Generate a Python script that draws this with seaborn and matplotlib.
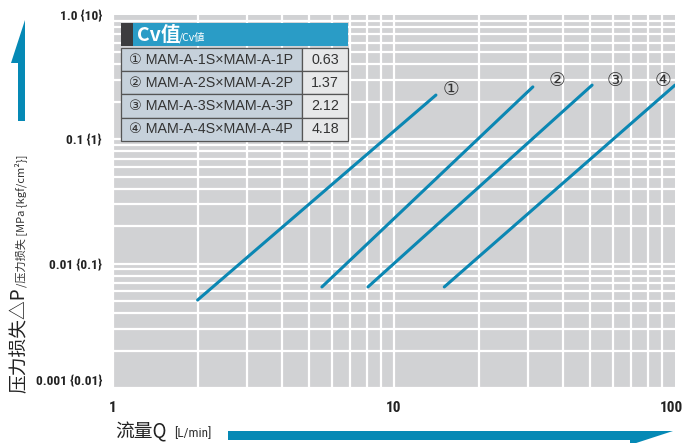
import matplotlib
matplotlib.use("Agg")
import matplotlib.pyplot as plt
import matplotlib.patches as mpatches
import matplotlib.transforms as mtransforms
from matplotlib import font_manager
import numpy as np
import pandas as pd
import seaborn as sns

# ---- data ----
models = ["① MAM-A-1S×MAM-A-1P", "② MAM-A-2S×MAM-A-2P",
          "③ MAM-A-3S×MAM-A-3P", "④ MAM-A-4S×MAM-A-4P"]
cv_values = ["0.63", "1.37", "2.12", "4.18"]
curve_marks = ["①", "②", "③", "④"]
flow_start = [2.0, 5.54, 8.08, 15.1]      # L/min
flow_end = [14.1, 31.2, 50.7, 100.0]      # L/min
drop_start = [0.0051, 0.0065, 0.0065, 0.0065]  # MPa
drop_end = [0.227, 0.264, 0.273, 0.273]        # MPa
mark_pos_q = [16.0, 38.0, 61.0, 91.0]
mark_pos_p = [0.25, 0.30, 0.30, 0.30]
y_ticks = [0.001, 0.01, 0.1, 1.0]
y_tick_labels = ["0.001 {0.01}", "0.01 {0.1}", "0.1 {1}", "1.0 {10}"]
x_ticks = [1, 10, 100]
x_tick_labels = ["1", "10", "100"]

rows = []
for i, m in enumerate(curve_marks):
    rows.append({"series": m, "Q": flow_start[i], "P": drop_start[i]})
    rows.append({"series": m, "Q": flow_end[i], "P": drop_end[i]})
df = pd.DataFrame(rows)

sns.set_theme(style="white")
plt.rcParams["font.family"] = ["Noto Sans CJK SC", "DejaVu Sans"]


def find_font(keys, size, bold=False):
    """Pick the first installed font file whose file name holds one of keys."""
    for key in keys:
        for f in font_manager.fontManager.ttflist:
            if key.lower() in f.fname.lower().replace(" ", ""):
                return font_manager.FontProperties(fname=f.fname, size=size)
    return font_manager.FontProperties(family="DejaVu Sans", size=size,
                                       weight="bold" if bold else "normal")


BOLD_KEYS = ["RobotoCondensed-Bold.", "LiberationSansNarrow-Bold.",
             "DejaVuSansCondensed-Bold."]
REG_KEYS = ["RobotoCondensed-Regular.", "LiberationSansNarrow-Regular.",
            "DejaVuSansCondensed."]
ytick_font = find_font(BOLD_KEYS, 9.6, bold=True)
xtick_font = find_font(BOLD_KEYS, 11, bold=True)
unit_font = find_font(REG_KEYS, 9.5)

W, H = 687, 443
fig = plt.figure(figsize=(W / 100, H / 100), dpi=100)
fig.patch.set_facecolor("white")


def fx(x):
    return x / W


def fy(y):
    return 1 - y / H


ax = fig.add_axes([fx(113), fy(388), fx(675) - fx(113), fy(15) - fy(388)])
ax.set_facecolor("#d1d2d4")

BLUE = "#0b87b3"
sns.lineplot(data=df, x="Q", y="P", hue="series", palette=[BLUE] * 4,
             linewidth=2.2, legend=False, ax=ax, zorder=3)
ax.set_xscale("log")
ax.set_yscale("log")
ax.set_xlim(1, 100)
ax.set_ylim(0.001, 1.0)

# white grid on every decade subdivision
for dec in [1, 10]:
    for k in range(1, 10):
        ax.axvline(dec * k, color="white", lw=1.6, zorder=1)
for dec in [0.001, 0.01, 0.1]:
    for k in range(1, 10):
        ax.axhline(dec * k, color="white", lw=1.6, zorder=1)

for s in ax.spines.values():
    s.set_visible(False)
ax.minorticks_off()
ax.set_xticks(x_ticks)
ax.set_xticklabels(x_tick_labels, fontproperties=xtick_font, color="#222222")
ax.set_yticks(y_ticks)
ax.set_yticklabels(y_tick_labels, fontproperties=ytick_font, color="#222222")
ax.tick_params(axis="both", length=0)
ax.tick_params(axis="y", pad=8)
ax.tick_params(axis="x", pad=9)
ax.get_yticklabels()[0].set_va("bottom")
last = ax.get_xticklabels()[-1]
last.set_transform(last.get_transform() +
                   mtransforms.ScaledTranslation(-4 / 100, 0, fig.dpi_scale_trans))
ax.set_xlabel("")
ax.set_ylabel("")

for m, q, p in zip(curve_marks, mark_pos_q, mark_pos_p):
    ax.text(q, p, m, fontsize=13.5, ha="center", va="center",
            color="#333333", fontfamily=["DejaVu Sans"], zorder=4)

# ---- Cv table ----
def rect(x0, y0, x1, y1, fc, ec="none", lw=0, z=5):
    fig.patches.append(mpatches.Rectangle((fx(x0), fy(y1)), fx(x1) - fx(x0),
                                          fy(y0) - fy(y1), transform=fig.transFigure,
                                          facecolor=fc, edgecolor=ec, lw=lw, zorder=z))

rect(121, 23, 348, 46, "#2a9cc6")
rect(121, 23, 133, 46, "#3c3c3e")
fig.text(fx(137), fy(35), "Cv值", color="white", fontsize=14, fontweight="bold",
         va="center", ha="left", zorder=6)
fig.text(fx(179), fy(37), "/Cv値", color="white", fontsize=7.5,
         va="center", ha="left", zorder=6,
         family=["Noto Sans CJK JP", "DejaVu Sans"])

row_top = 48
row_h = 23.2
for i, (name, cv) in enumerate(zip(models, cv_values)):
    y0 = row_top + i * row_h
    y1 = y0 + row_h
    rect(121, y0, 302, y1, "#c6d1db", ec="#555555", lw=0.9)
    rect(302, y0, 348, y1, "#e7e8e9", ec="#555555", lw=0.9)
    fig.text(fx(129), fy((y0 + y1) / 2), name, fontsize=10.3, color="#333333",
             va="center", ha="left", zorder=6,
             family=["Liberation Sans", "DejaVu Sans"])
    fig.text(fx(325), fy((y0 + y1) / 2), cv, fontsize=10.3, color="#333333",
             va="center", ha="center", zorder=6,
             family=["Liberation Sans", "DejaVu Sans"])

# ---- axis titles with arrows ----
fig.patches.append(mpatches.Polygon(
    [(fx(18), fy(121)), (fx(18), fy(63)), (fx(11), fy(63)), (fx(25), fy(20)),
     (fx(25), fy(121))], closed=True, transform=fig.transFigure,
    facecolor="#0589b5", edgecolor="none"))
fig.patches.append(mpatches.Polygon(
    [(fx(228), fy(431)), (fx(673), fy(431)), (fx(630), fy(445)),
     (fx(630), fy(440)), (fx(228), fy(440))], closed=True,
    transform=fig.transFigure, facecolor="#0589b5", edgecolor="none"))

fig.text(fx(19), fy(393), "压力损失△P", rotation=90, fontsize=13.5,
         fontweight="medium", ha="center", va="bottom", color="#222222",
         family=["Noto Sans CJK SC", "DejaVu Sans"])
fig.text(fx(21), fy(287), "/压力损失 [MPa {kgf/cm²}]", rotation=90, fontsize=8,
         ha="center", va="bottom", color="#333333",
         family=["Noto Sans CJK SC", "DejaVu Sans"])

fig.text(fx(115), fy(432), "流量Q", fontsize=13.5, fontweight="medium",
         ha="left", va="center", color="#222222",
         family=["Noto Sans CJK SC", "DejaVu Sans"])
fig.text(fx(174), fy(434), "[L/min]", fontproperties=unit_font, ha="left",
         va="center", color="#333333")

fig.savefig("out.png", dpi=100)
